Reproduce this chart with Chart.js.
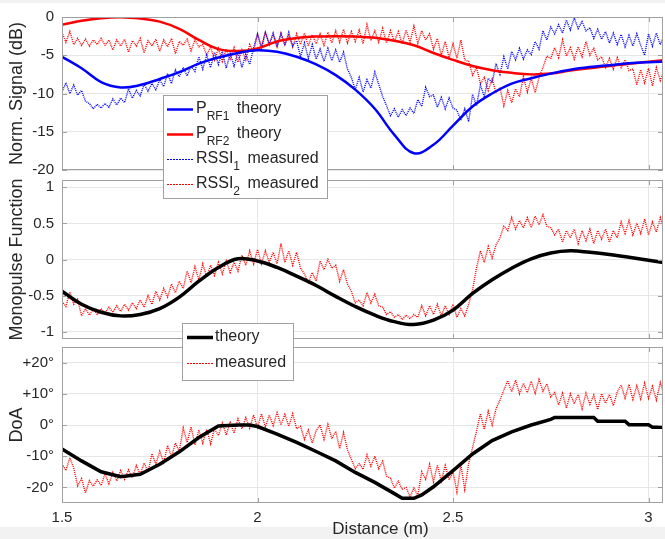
<!DOCTYPE html>
<html>
<head>
<meta charset="utf-8">
<title>Monopulse DoA measurement</title>
<script src="https://cdn.jsdelivr.net/npm/chart.js@4.4.1/dist/chart.umd.min.js"></script>
<style>
  html, body { margin: 0; padding: 0; background: #fff; }
  #wrap { position: relative; width: 665px; height: 539px; overflow: hidden; }
  #wrap canvas { position: absolute; left: 0; top: 0; }
  .strip { position: absolute; left: 0; width: 665px; background: #f2f2f2; }
</style>
</head>
<body>
<div id="wrap">
  <div class="strip" style="top:0;height:3px"></div>
  <div class="strip" style="top:527px;height:12px"></div>
  <canvas id="doa" width="665" height="539"></canvas>
  <canvas id="mono" width="665" height="539"></canvas>
  <canvas id="signal" width="665" height="539"></canvas>
</div>
<script>
var FONT = '"Liberation Sans", Helvetica, Arial, sans-serif';
Chart.defaults.font.family = FONT;
Chart.defaults.color = '#262626';
Chart.defaults.animation = false;

// distance grid of the measured traces (m)
var measX = [
  1.50,1.51,1.52,1.53,1.54,1.55,1.56,1.57,1.58,1.59,
  1.60,1.61,1.62,1.63,1.64,1.65,1.66,1.67,1.68,1.69,
  1.70,1.71,1.72,1.73,1.74,1.75,1.76,1.77,1.78,1.79,
  1.80,1.81,1.82,1.83,1.84,1.85,1.86,1.87,1.88,1.89,
  1.90,1.91,1.92,1.93,1.94,1.95,1.96,1.97,1.98,1.99,
  2.00,2.01,2.02,2.03,2.04,2.05,2.06,2.07,2.08,2.09,
  2.10,2.11,2.12,2.13,2.14,2.15,2.16,2.17,2.18,2.19,
  2.20,2.21,2.22,2.23,2.24,2.25,2.26,2.27,2.28,2.29,
  2.30,2.31,2.32,2.33,2.34,2.35,2.36,2.37,2.38,2.39,
  2.40,2.41,2.42,2.43,2.44,2.45,2.46,2.47,2.48,2.49,
  2.50,2.51,2.52,2.53,2.54,2.55,2.56,2.57,2.58,2.59,
  2.60,2.61,2.62,2.63,2.64,2.65,2.66,2.67,2.68,2.69,
  2.70,2.71,2.72,2.73,2.74,2.75,2.76,2.77,2.78,2.79,
  2.80,2.81,2.82,2.83,2.84,2.85,2.86,2.87,2.88,2.89,
  2.90,2.91,2.92,2.93,2.94,2.95,2.96,2.97,2.98,2.99,
  3.00,3.01,3.02,3.03,3.04
];

// RSSI traces (dB, normalised)
var rssi1 = [
  -9.8,-8.6,-10.0,-8.9,-10.2,-9.6,-11.0,-11.3,-12.0,-11.4,
  -11.9,-11.3,-11.8,-10.7,-11.5,-10.6,-11.2,-9.4,-10.6,-9.6,
  -10.3,-8.8,-9.7,-8.7,-9.5,-8.2,-9.1,-7.4,-8.7,-6.9,
  -7.8,-6.6,-7.7,-6.4,-7.1,-5.2,-6.8,-5.0,-6.6,-4.6,
  -6.2,-4.5,-6.7,-4.8,-6.4,-4.6,-6.6,-4.9,-6.2,-4.0,
  -2.2,-4.2,-2.0,-3.6,-2.1,-3.9,-2.2,-3.7,-2.0,-3.8,
  -3.1,-5.2,-3.4,-5.4,-3.6,-5.5,-4.2,-5.8,-4.1,-5.7,
  -4.3,-5.9,-4.6,-6.8,-7.9,-9.5,-7.9,-9.8,-8.2,-9.3,
  -7.2,-8.8,-10.4,-11.6,-12.9,-12.0,-13.1,-12.1,-12.9,-11.9,
  -12.6,-10.8,-11.7,-9.2,-10.4,-10.2,-11.8,-10.5,-12.0,-10.6,
  -11.9,-12.2,-13.5,-12.0,-13.7,-10.1,-11.6,-8.9,-10.4,-8.0,
  -8.6,-6.1,-7.5,-5.2,-6.8,-4.5,-5.6,-4.1,-5.5,-4.3,
  -4.9,-3.2,-4.2,-1.8,-3.0,-1.3,-2.2,-1.0,-2.1,-0.4,
  -1.7,-0.1,-1.5,-0.6,-1.8,-1.4,-2.8,-1.6,-2.9,-1.9,
  -3.4,-2.1,-3.6,-2.3,-3.9,-2.4,-3.8,-2.2,-3.7,-5.0,
  -2.2,-3.8,-2.1,-3.6,-2.4
];
var rssi2 = [
  -2.0,-3.3,-1.9,-3.6,-2.8,-3.7,-2.9,-3.8,-3.0,-3.6,
  -2.8,-3.7,-3.0,-4.3,-3.0,-3.8,-2.9,-4.6,-3.1,-3.8,
  -2.8,-4.7,-3.1,-3.8,-2.9,-4.5,-3.0,-3.9,-2.8,-4.8,
  -3.2,-3.7,-2.9,-4.4,-3.0,-3.9,-3.6,-5.0,-3.9,-5.6,
  -4.1,-5.8,-4.2,-5.5,-4.0,-5.9,-4.3,-5.6,-3.6,-4.6,
  -2.2,-3.8,-2.0,-3.5,-2.3,-3.9,-2.1,-3.6,-2.4,-3.9,
  -2.2,-3.6,-2.1,-3.8,-2.3,-3.5,-2.2,-3.7,-2.0,-3.4,
  -1.8,-3.3,-1.6,-3.4,-1.9,-3.2,-1.7,-3.5,-1.0,-3.1,
  -1.8,-3.3,-1.5,-3.4,-1.8,-3.2,-1.9,-3.5,-1.7,-3.3,
  -1.2,-3.4,-1.8,-3.0,-2.2,-4.2,-2.8,-5.0,-3.2,-5.3,
  -3.5,-5.4,-3.0,-5.6,-5.8,-7.6,-6.6,-8.7,-7.9,-9.6,
  -8.1,-9.9,-9.2,-11.6,-9.6,-11.2,-9.4,-10.4,-7.8,-9.8,
  -8.0,-9.9,-7.9,-6.6,-5.1,-5.4,-4.0,-5.3,-3.0,-5.1,
  -4.0,-5.5,-3.9,-5.2,-3.2,-5.0,-4.1,-5.6,-5.2,-6.6,
  -5.4,-6.8,-5.3,-6.6,-5.6,-7.0,-6.8,-8.9,-6.9,-8.6,
  -6.7,-9.0,-6.6,-8.3,-6.9
];
// monopulse function, measured
var monoMeas = [
  -0.58,-0.65,-0.45,-0.62,-0.55,-0.78,-0.68,-0.77,-0.69,-0.76,
  -0.68,-0.74,-0.66,-0.73,-0.64,-0.72,-0.62,-0.70,-0.60,-0.68,
  -0.56,-0.66,-0.50,-0.62,-0.44,-0.56,-0.40,-0.52,-0.34,-0.46,
  -0.30,-0.40,-0.16,-0.32,-0.10,-0.28,-0.06,-0.24,-0.08,-0.22,
  -0.04,-0.20,-0.02,-0.18,-0.04,-0.16,0.06,-0.08,0.12,-0.06,
  0.14,-0.06,0.12,-0.04,0.10,-0.06,0.22,-0.04,0.12,-0.08,
  0.10,-0.12,-0.20,-0.32,-0.18,-0.30,-0.02,-0.14,0.00,-0.12,
  -0.08,-0.30,-0.14,-0.34,-0.44,-0.60,-0.56,-0.64,-0.46,-0.60,
  -0.48,-0.64,-0.66,-0.76,-0.72,-0.80,-0.76,-0.83,-0.77,-0.82,
  -0.76,-0.80,-0.64,-0.78,-0.64,-0.76,-0.62,-0.78,-0.64,-0.76,
  -0.62,-0.80,-0.68,-0.78,-0.62,-0.42,-0.12,0.12,-0.04,0.18,
  0.02,0.20,0.30,0.46,0.40,0.58,0.42,0.54,0.44,0.58,
  0.44,0.60,0.48,0.62,0.46,0.44,0.34,0.42,0.24,0.40,
  0.30,0.42,0.22,0.40,0.26,0.42,0.22,0.40,0.28,0.42,
  0.24,0.40,0.30,0.52,0.36,0.54,0.34,0.50,0.36,0.56,
  0.34,0.52,0.38,0.58,0.40
];
// direction of arrival, measured (deg)
var doaMeas = [
  -12.5,-14.6,-10.5,-13.8,-19.5,-17.2,-21.8,-17.8,-19.6,-17.6,
  -19.4,-15.6,-18.8,-15.2,-17.9,-14.6,-17.4,-14.4,-16.9,-13.0,
  -15.8,-12.2,-15.0,-9.2,-12.6,-8.4,-12.0,-6.6,-10.2,-5.8,
  -8.4,-1.0,-5.6,-0.6,-6.4,-1.6,-5.8,-1.4,-6.0,-1.2,
  -3.4,0.6,-3.2,0.8,-2.6,2.0,-1.2,2.4,-1.0,3.2,
  -0.8,3.6,-0.6,3.2,-0.2,4.0,0.0,3.4,-0.4,3.6,
  -1.2,-0.4,-4.6,-1.6,-5.8,-1.8,0.0,-4.6,0.2,-4.4,
  -2.0,-7.6,-2.4,-8.0,-11.0,-14.0,-12.4,-14.2,-9.6,-13.2,
  -10.0,-14.0,-11.6,-16.4,-17.0,-20.2,-18.0,-20.6,-20.0,-23.0,
  -20.2,-22.6,-15.0,-17.4,-12.6,-18.2,-12.8,-18.0,-13.0,-17.6,
  -15.0,-21.4,-12.8,-20.6,-12.4,-7.2,-2.0,3.6,-1.4,4.4,
  0.0,5.2,8.0,11.2,14.2,10.6,14.4,10.0,13.4,10.4,
  14.0,10.2,14.6,10.8,13.2,9.0,10.4,6.4,10.2,5.4,
  10.0,6.8,9.8,5.2,10.2,6.6,9.6,5.0,10.0,7.0,
  9.8,6.2,10.6,12.8,8.6,13.0,8.2,12.6,8.4,13.4,
  8.6,12.4,8.0,13.6,9.4
];

// theory curves
var theoryX = [1.50,1.55,1.60,1.65,1.70,1.75,1.80,1.85,1.90,1.95,2.00,2.05,2.10,2.15,2.20,2.25,
               2.30,2.35,2.40,2.45,2.50,2.55,2.60,2.65,2.70,2.75,2.80,2.85,2.90,2.95,3.00,3.05];
var pRf1Theory = [-5.2,-6.7,-8.5,-9.2,-8.9,-8.1,-7.2,-6.1,-5.3,-4.7,-4.35,-4.55,-5.2,-6.2,-7.6,-9.5,
                  -12.0,-15.4,-17.8,-16.7,-14.2,-11.7,-10.0,-8.7,-8.0,-7.4,-6.9,-6.55,-6.3,-6.05,-5.9,-5.8];
var pRf2Theory = [-1.0,-0.5,-0.15,-0.02,-0.2,-0.6,-1.55,-3.0,-4.2,-4.45,-4.1,-3.2,-2.75,-2.55,-2.5,-2.55,
                  -2.7,-3.1,-3.7,-4.7,-5.6,-6.4,-6.95,-7.3,-7.5,-7.4,-7.0,-6.7,-6.4,-6.1,-5.85,-5.6];
var monoTheory = [-0.44,-0.62,-0.73,-0.78,-0.76,-0.68,-0.52,-0.30,-0.11,0.01,-0.02,-0.11,-0.23,-0.36,-0.51,-0.65,
                  -0.77,-0.86,-0.90,-0.84,-0.70,-0.47,-0.28,-0.12,0.01,0.09,0.12,0.10,0.07,0.03,-0.01,-0.05];
var doaTheoryX = [1.50,1.55,1.60,1.65,1.70,1.75,1.80,1.85,1.90,1.95,1.98,2.00,2.05,2.10,2.15,2.20,2.25,2.30,2.35,
                  2.37,2.40,2.42,2.45,2.50,2.55,2.60,2.65,2.70,2.75,2.76,2.86,2.87,2.94,2.95,3.00,3.01,3.05];
var doaTheory = [-7.7,-11.5,-15.0,-16.6,-15.8,-12.6,-8.6,-4.0,-0.3,0.0,0.0,-0.5,-2.9,-5.6,-8.5,-11.5,-15.2,-18.4,-22.0,
                 -23.5,-23.5,-22.4,-19.8,-14.6,-9.3,-5.0,-2.2,0.0,1.8,2.4,2.4,1.2,1.2,0.1,0.1,-0.7,-0.7];

// axes
var distTicks = [1.5, 2, 2.5, 3];
var distTickLabels = ['1.5', '2', '2.5', '3'];
var signalTicks = [-20, -15, -10, -5, 0];
var signalTickLabels = ['-20', '-15', '-10', '-5', '0'];
var monoTicks = [-1, -0.5, 0, 0.5, 1];
var monoTickLabels = ['-1', '-0.5', '0', '0.5', '1'];
var doaTicks = [-20, -10, 0, 10, 20];
var doaTickLabels = ['-20\u00b0', '-10\u00b0', '0\u00b0', '+10\u00b0', '+20\u00b0'];

var signalLegend = [
  {main: 'P', sub: 'RF1', rest: 'theory'},
  {main: 'P', sub: 'RF2', rest: 'theory'},
  {main: 'RSSI', sub: '1', rest: 'measured'},
  {main: 'RSSI', sub: '2', rest: 'measured'}
];
var monoLegend = [{main: 'theory'}, {main: 'measured'}];

var BLUE = '#0000ff', RED = '#ff0000', BLACK = '#000000';
var GRID = '#e6e6e6', FRAME = '#a0a0a0';

function pts(xs, ys){
  return xs.map(function(x, i){ return {x: x, y: ys[i]}; });
}
function theoryLine(xs, ys, color, width, tension){
  return {data: pts(xs, ys), borderColor: color, borderWidth: width, pointRadius: 0, tension: tension};
}
function measuredLine(ys, color){
  return {data: pts(measX, ys), borderColor: color, borderWidth: 1.4, borderDash: [1, 1],
          pointRadius: 0, tension: 0, dotted: true};
}

function labelFrom(labels){
  return function(v, i){ return labels[i]; };
}
function xScale(showLabels){
  return {
    type: 'linear', min: 1.5, max: 3.037,
    afterBuildTicks: function(s){ s.ticks = distTicks.map(function(v){ return {value: v}; }); },
    afterFit: function(s){ s.height = showLabels ? 36 : 0; },
    grid: {color: GRID, drawTicks: false},
    border: {display: false},
    ticks: {display: showLabels, padding: 6, maxRotation: 0, font: {size: 15},
            callback: labelFrom(distTickLabels)}
  };
}
function yScale(title, ticks, labels, min, max){
  return {
    min: min, max: max,
    afterBuildTicks: function(s){ s.ticks = ticks.map(function(v){ return {value: v}; }); },
    afterFit: function(s){ s.width = 62; },
    grid: {color: GRID, drawTicks: false},
    border: {display: false},
    ticks: {padding: 8, font: {size: 15}, callback: labelFrom(labels)},
    title: {display: true, text: title, font: {size: 18}, padding: {top: 6, bottom: 0}}
  };
}

// box around each axes with inward ticks, MATLAB style; optional x title
var framePlugin = {
  id: 'frame',
  afterDatasetsDraw: function(chart, args, o){
    var a = chart.chartArea, ctx = chart.ctx, xs = chart.scales.x, ys = chart.scales.y;
    ctx.save();
    ctx.strokeStyle = FRAME;
    ctx.lineWidth = 1;
    ctx.strokeRect(Math.round(a.left) + 0.5, Math.round(a.top) + 0.5,
                   Math.round(a.right - a.left) - 1, Math.round(a.bottom - a.top) - 1);
    ctx.beginPath();
    xs.ticks.forEach(function(t){
      var px = Math.round(xs.getPixelForValue(t.value)) + 0.5;
      ctx.moveTo(px, a.top); ctx.lineTo(px, a.top + 5);
      ctx.moveTo(px, a.bottom); ctx.lineTo(px, a.bottom - 5);
    });
    ys.ticks.forEach(function(t){
      var py = Math.round(ys.getPixelForValue(t.value)) + 0.5;
      ctx.moveTo(a.left, py); ctx.lineTo(a.left + 5, py);
      ctx.moveTo(a.right, py); ctx.lineTo(a.right - 5, py);
    });
    ctx.stroke();
    if (o.xTitle) {
      ctx.fillStyle = '#262626';
      ctx.font = '17px ' + FONT;
      ctx.textAlign = 'center';
      ctx.textBaseline = 'middle';
      ctx.fillText(o.xTitle, (a.left + a.right) / 2 + o.xTitleShift, a.bottom + o.xTitleDrop);
    }
    ctx.restore();
  }
};

// boxed legend with subscripts
var legendPlugin = {
  id: 'boxLegend',
  afterDraw: function(chart, args, o){
    if (!o.items) return;
    var ctx = chart.ctx, a = chart.chartArea;
    var x0 = Math.round(a.left + o.left), y0 = Math.round(a.top + o.top);
    ctx.save();
    ctx.fillStyle = '#ffffff';
    ctx.fillRect(x0, y0, o.width, o.height);
    ctx.strokeStyle = FRAME;
    ctx.lineWidth = 1;
    ctx.strokeRect(x0 + 0.5, y0 + 0.5, o.width, o.height);
    o.items.forEach(function(it, i){
      var ds = chart.data.datasets[i];
      var ly = Math.round(y0 + o.firstRow + i * o.rowGap);
      if (ds.dotted) {
        // sample of a dotted trace: short dashes
        ctx.fillStyle = ds.borderColor;
        for (var px = x0 + o.lineFrom; px < x0 + o.lineTo; px += 3) ctx.fillRect(px, ly, 2, 1);
      } else {
        ctx.beginPath();
        ctx.strokeStyle = ds.borderColor;
        ctx.lineWidth = ds.borderWidth;
        ctx.moveTo(x0 + o.lineFrom, ly + 0.5);
        ctx.lineTo(x0 + o.lineTo, ly + 0.5);
        ctx.stroke();
      }
      ctx.fillStyle = '#262626';
      ctx.textBaseline = 'alphabetic';
      var tx = x0 + o.textAt;
      ctx.font = '16px ' + FONT;
      ctx.fillText(it.main, tx, ly + 4);
      tx += ctx.measureText(it.main).width;
      if (it.sub) {
        ctx.font = '12px ' + FONT;
        ctx.fillText(it.sub, tx, ly + 11);
        tx += ctx.measureText(it.sub).width + 3;
        ctx.font = '16px ' + FONT;
      }
      if (it.rest) ctx.fillText(' ' + it.rest, tx, ly + 4);
    });
    ctx.restore();
  }
};

function makePanel(id, datasets, xs, ys, padTop, padBottom, legend, frame){
  return new Chart(document.getElementById(id), {
    type: 'line',
    data: {datasets: datasets},
    options: {
      responsive: false,
      devicePixelRatio: 1,
      parsing: false,
      layout: {padding: {top: padTop, bottom: padBottom, left: 0, right: 2}},
      scales: {x: xs, y: ys},
      plugins: {legend: {display: false}, tooltip: {enabled: false},
                boxLegend: legend || {}, frame: frame || {}}
    },
    plugins: [framePlugin, legendPlugin]
  });
}

makePanel('doa', [
  theoryLine(doaTheoryX, doaTheory, BLACK, 3.5, 0),
  measuredLine(doaMeas, RED)
], xScale(true), yScale('DoA', doaTicks, doaTickLabels, -25, 25), 347, 0, null,
  {xTitle: 'Distance (m)', xTitleShift: 18, xTitleDrop: 26});

makePanel('mono', [
  theoryLine(theoryX, monoTheory, BLACK, 3.5, 0.4),
  measuredLine(monoMeas, RED)
], xScale(false), yScale('Monopulse Function', monoTicks, monoTickLabels, -1.1, 1.1), 180, 200,
  {items: monoLegend, left: 120, top: 143, width: 111, height: 57,
   firstRow: 14, rowGap: 26, lineFrom: 5, lineTo: 31, textAt: 33});

makePanel('signal', [
  theoryLine(theoryX, pRf1Theory, BLUE, 2.5, 0.4),
  theoryLine(theoryX, pRf2Theory, RED, 2.5, 0.4),
  measuredLine(rssi1, BLUE),
  measuredLine(rssi2, RED)
], xScale(false), yScale('Norm. Signal (dB)', signalTicks, signalTickLabels, -20, 0), 16, 369,
  {items: signalLegend, left: 101, top: 78, width: 164, height: 103,
   firstRow: 14, rowGap: 25, lineFrom: 4, lineTo: 30, textAt: 33});
</script>
</body>
</html>
